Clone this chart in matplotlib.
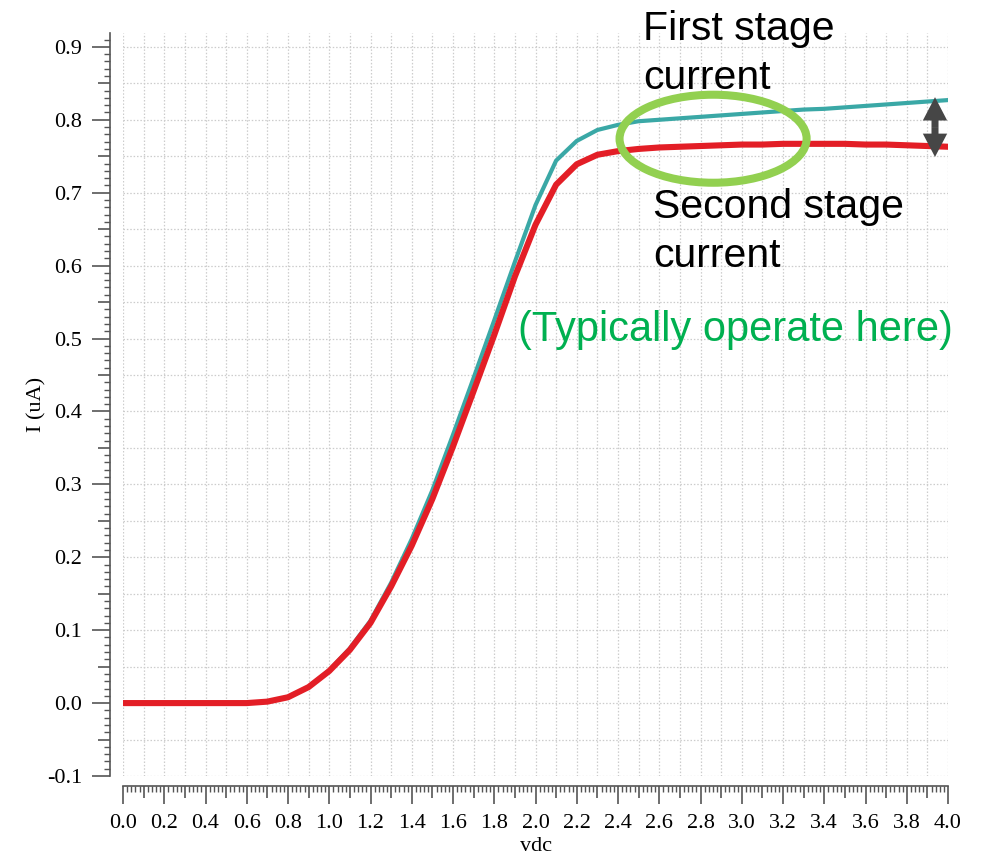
import numpy as np
import matplotlib
matplotlib.use("Agg")
import matplotlib.pyplot as plt
from matplotlib.patches import Ellipse, FancyArrow
from matplotlib.ticker import MultipleLocator, FuncFormatter

# ---------------- data ----------------
vdc = [0.0, 0.1, 0.2, 0.3, 0.4, 0.5, 0.6, 0.7, 0.8, 0.9,
       1.0, 1.1, 1.2, 1.3, 1.4, 1.5, 1.6, 1.7, 1.8, 1.9,
       2.0, 2.1, 2.2, 2.3, 2.4, 2.5, 2.6, 2.7, 2.8, 2.9,
       3.0, 3.1, 3.2, 3.3, 3.4, 3.5, 3.6, 3.7, 3.8, 3.9, 4.0]

first_stage = [0.0, 0.0, 0.0, 0.0, 0.0, 0.0, 0.0, 0.002, 0.008, 0.022,
               0.045, 0.075, 0.113, 0.165, 0.225, 0.292, 0.368, 0.446, 0.525, 0.605,
               0.683, 0.744, 0.771, 0.786, 0.793, 0.798, 0.800, 0.802, 0.804, 0.806,
               0.808, 0.810, 0.812, 0.814, 0.815, 0.817, 0.819, 0.821, 0.823, 0.825, 0.827]

second_stage = [0.0, 0.0, 0.0, 0.0, 0.0, 0.0, 0.0, 0.002, 0.008, 0.022,
                0.044, 0.073, 0.110, 0.160, 0.216, 0.280, 0.352, 0.428, 0.505, 0.585,
                0.656, 0.711, 0.739, 0.752, 0.757, 0.760, 0.762, 0.763, 0.764, 0.765,
                0.766, 0.766, 0.767, 0.767, 0.767, 0.767, 0.766, 0.766, 0.765, 0.764, 0.763]

x_label = "vdc"
y_label = "I (uA)"
txt_first = "First stage\ncurrent"
txt_second = "Second stage\ncurrent"
txt_typical = "(Typically operate here)"

# ---------------- style ----------------
TEAL = "#3AA8A6"
RED = "#E31E26"
GREEN_ELL = "#92D050"
GREEN_TXT = "#00B050"
ARROW = "#464646"
SPINE = "#555555"
SERIF = ["Liberation Serif", "DejaVu Serif"]
SANS = ["Liberation Sans", "DejaVu Sans"]

W, H = 984, 857
fig = plt.figure(figsize=(W / 100, H / 100), dpi=100)
left_px, right_px, top_px, bot_px = 123, 948, 33, 776
ax = fig.add_axes([left_px / W, 1 - bot_px / H, (right_px - left_px) / W, (bot_px - top_px) / H])

ax.set_xlim(0.0, 4.0)
ax.set_ylim(-0.1, 0.919)

ax.plot(vdc, first_stage, color=TEAL, lw=3.0, solid_joinstyle="round", zorder=3)
ax.plot(vdc, second_stage, color=RED, lw=4.4, solid_joinstyle="round", zorder=4)

# spines
for s in ("top", "right"):
    ax.spines[s].set_visible(False)
px2pt = 72 / 100
ax.spines["left"].set_position(("outward", 13 * px2pt))
ax.spines["bottom"].set_position(("outward", 10 * px2pt))
for s in ("left", "bottom"):
    ax.spines[s].set_color(SPINE)
    ax.spines[s].set_linewidth(1.2)

# ticks
ax.xaxis.set_major_locator(MultipleLocator(0.1))
ax.xaxis.set_minor_locator(MultipleLocator(0.02))
ax.yaxis.set_major_locator(MultipleLocator(0.05))
ax.yaxis.set_minor_locator(MultipleLocator(0.01))


def xfmt(v, pos):
    k = int(round(v * 10))
    return f"{v:.1f}" if k % 2 == 0 else ""


def yfmt(v, pos):
    k = int(round(v * 20))
    return f"{v:.1f}" if k % 2 == 0 else ""


ax.xaxis.set_major_formatter(FuncFormatter(xfmt))
ax.yaxis.set_major_formatter(FuncFormatter(yfmt))

ax.tick_params(which="major", length=18 * px2pt, width=1.2, color=SPINE,
               labelsize=16, pad=10 * px2pt)
ax.tick_params(which="minor", length=6 * px2pt, width=1.0, color=SPINE)
for lab in ax.get_xticklabels() + ax.get_yticklabels():
    lab.set_family(SERIF)

# grid
ax.grid(which="major", color="#cccccc", linestyle=(0, (1.2, 1.5)), linewidth=0.9)
ax.set_axisbelow(True)

ax.set_xlabel(x_label, family=SERIF, fontsize=16, labelpad=3)
ax.set_ylabel(y_label, family=SERIF, fontsize=16, labelpad=0)

# annotations
ell = Ellipse((2.861, 0.774), width=0.907, height=0.1207, fill=False,
              edgecolor=GREEN_ELL, lw=5.8, zorder=5, clip_on=False)
ax.add_patch(ell)

arr_x, arr_mid, arr_top, arr_bot = 3.937, 0.790, 0.831, 0.749
for end in (arr_top, arr_bot):
    ax.add_patch(FancyArrow(arr_x, arr_mid, 0, end - arr_mid, width=0.034,
                            head_width=0.118, head_length=0.032,
                            length_includes_head=True, color=ARROW, lw=0,
                            zorder=6, clip_on=False))

ax.text(2.521, 0.950, txt_first, family=SANS, fontsize=29.5, va="top", ha="left",
        linespacing=1.35, clip_on=False, zorder=7)
ax.text(2.57, 0.706, txt_second, family=SANS, fontsize=29.5, va="top", ha="left",
        linespacing=1.35, clip_on=False, zorder=7)
ax.text(1.915, 0.512, txt_typical, family=SANS, fontsize=30, va="center",
        ha="left", color=GREEN_TXT, clip_on=False, zorder=7)

# medium ticks: adjust lengths of odd major ticks
fig.canvas.draw()
for t in ax.xaxis.get_major_ticks():
    k = int(round(t.get_loc() * 10))
    if k % 2 != 0:
        t.tick1line.set_markersize(12 * px2pt)
for t in ax.yaxis.get_major_ticks():
    k = int(round(t.get_loc() * 20))
    if k % 2 != 0:
        t.tick1line.set_markersize(12 * px2pt)

fig.savefig("out.png", dpi=100)
